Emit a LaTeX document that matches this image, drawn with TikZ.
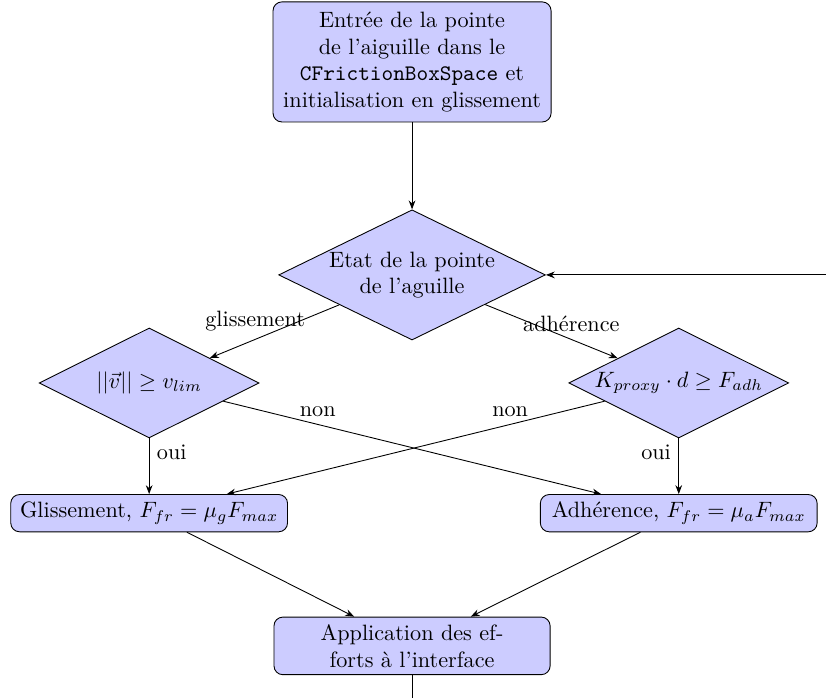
\documentclass[tikz,border=0pt]{standalone}
\usepackage{amsmath,amssymb}
\usetikzlibrary{arrows.meta, positioning, shapes.geometric, calc}
\definecolor{mfill}{HTML}{CCCCFF}
\tikzset{
  bloc/.style={draw, fill=mfill, rounded corners=4pt, align=center, inner sep=3.33pt},
  decision/.style={diamond, aspect=2, draw, fill=mfill, align=center, inner sep=0pt},
  lien/.style={-{Stealth[length=4pt, width=3pt]}, draw},
}

\begin{document}
\begin{tikzpicture}[x=1cm, y=-1cm]
    \path[use as bounding box, clip] (0,0) rectangle (13.07,11.03);
    \node[bloc, minimum width=4.40cm, minimum height=1.90cm] (entree) at (6.52,0.98)
      {Entrée de la pointe\\de l'aiguille dans le\\\texttt{CFrictionBoxSpace} et\\initialisation en glissement};
    \node[decision, minimum width=4.22cm, minimum height=2.06cm] (etat) at (6.52,4.35)
      {Etat de la pointe\\de l'aguille};
    \node[decision, minimum width=3.48cm, minimum height=1.74cm] (vitesse) at (2.36,6.06)
      {$||\vec{v}|| \geq v_{lim}$};
    \node[decision, minimum width=3.48cm, minimum height=1.74cm] (seuil) at (10.74,6.06)
      {$K_{proxy} \cdot d \geq F_{adh}$};
    \node[bloc, minimum width=4.38cm, minimum height=0.59cm] (gliss) at (2.36,8.12)
      {Glissement, $F_{fr} = \mu_g F_{max}$};
    \node[bloc, minimum width=4.38cm, minimum height=0.59cm] (adh) at (10.74,8.12)
      {Adhérence, $F_{fr} = \mu_a F_{max}$};
    \node[bloc, minimum width=4.37cm, minimum height=0.90cm] (appl) at (6.52,10.22)
      {Application des ef-\\forts à l'interface};
    \coordinate (retour) at (13.8,11.6);

    \draw[lien] (entree) -- (etat);
    \draw[lien] (etat) -- node[pos=0.65, above] {glissement} (vitesse);
    \draw[lien] (etat) -- node[pos=0.65, above] {adhérence} (seuil);
    \draw[lien] (vitesse) -- node[pos=0.25, right] {oui} (gliss);
    \draw[lien] (vitesse) -- node[pos=0.25, above] {non} (adh);
    \draw[lien] (seuil) -- node[pos=0.25, left] {oui} (adh);
    \draw[lien] (seuil) -- node[pos=0.25, above] {non} (gliss);
    \draw[lien] (gliss) -- (appl);
    \draw[lien] (adh) -- (appl);
    \draw[lien] (appl.south) |- (retour) |- (etat.east);
  \end{tikzpicture}
\end{document}
